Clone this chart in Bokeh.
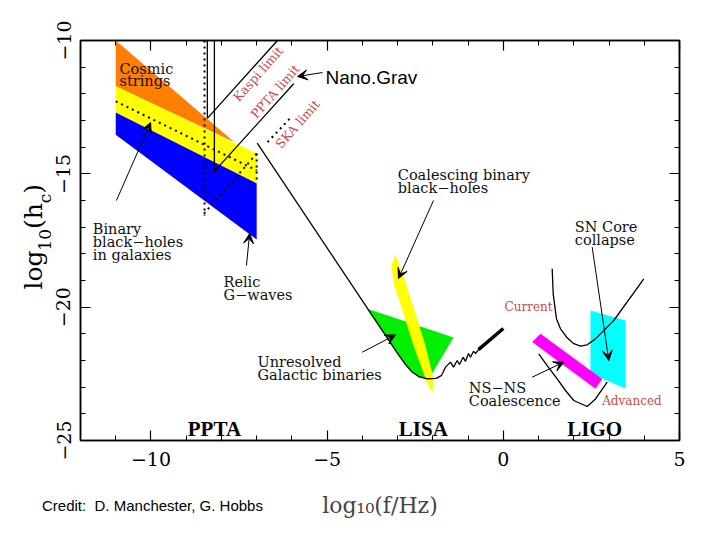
import math
import json
from bokeh.plotting import figure
from bokeh.models import (Range1d, LinearAxis, SingleIntervalTicker, FixedTicker, Label, Arrow,
                          VeeHead, CustomJSTickFormatter)
from bokeh.embed import file_html
from bokeh.resources import INLINE

# ---------------- data (x = log10(f/Hz), y = log10(hc)) ----------------
x_range = (-12, 5)
y_range = (-25, -10)

# PPTA band sources
cosmic_x = [-11.0, -7.63, -11.0]
cosmic_y = [-10.0, -13.82, -11.72]
relic_x = [-11.0, -7.0, -7.0, -11.0]
relic_y = [-11.72, -14.24, -15.36, -12.70]
bbh_gal_x = [-11.0, -7.0, -7.0, -11.0]
bbh_gal_y = [-12.70, -15.36, -17.46, -13.53]

# PPTA limits
dotted_band_x = [-11.0, -7.0]
dotted_band_y = [-12.28, -14.87]
dotted_edge_x = [-7.0, -7.0]
dotted_edge_y = [-14.24, -15.36]
dotted_diag_x = [-7.0, -8.5]
dotted_diag_y = [-14.24, -16.5]
dotted_vert_x = [-8.48, -8.48]
dotted_vert_y = [-10.0, -16.56]
kaspi_x = [-8.40, -8.40, -6.41]
kaspi_y = [-10.0, -12.92, -10.0]
ppta_lim_x = [-8.20, -8.20, -5.95]
ppta_lim_y = [-10.0, -14.91, -11.62]
ska_x = [-6.69, -6.04]
ska_y = [-13.81, -12.90]

# LISA
lisa_x = [-6.985, -3.060, -2.918, -2.776, -2.606, -2.407, -2.152, -1.897, -1.754,
          -1.641, -1.499, -1.414, -1.309, -1.244, -1.139, -1.073, -0.988, -0.932,
          -0.847, -0.790, -0.705]
lisa_y = [-13.85, -21.62, -21.89, -22.15, -22.41, -22.60, -22.69, -22.67, -22.56,
          -22.25, -22.06, -22.25, -22.00, -22.15, -21.88, -22.03, -21.74, -21.88,
          -21.65, -21.74, -21.59]
lisa_tail_x = [-0.705, 0.0]
lisa_tail_y = [-21.59, -20.80]
galactic_x = [-3.883, -1.414, -2.124, -2.407, -2.606, -2.776, -2.918, -3.060]
galactic_y = [-20.05, -21.14, -22.71, -22.60, -22.41, -22.15, -21.89, -21.62]
coal_bbh_x = [-3.060, -2.776, -2.209, -1.982, -2.010, -2.209, -2.549, -3.117, -3.174]
coal_bbh_y = [-18.025, -19.075, -21.44, -22.675, -23.24, -22.675, -21.44, -19.075, -18.44]

# LIGO
sn_x = [2.474, 3.468, 3.468, 2.474]
sn_y = [-20.125, -20.50, -23.05, -22.49]
nsns_x = [0.819, 1.055, 2.806, 2.616]
nsns_y = [-21.31, -21.00, -22.69, -23.06]
ligo_cur_x = [1.387, 1.415, 1.509, 1.623, 1.813, 2.000, 2.190, 2.380, 2.616, 3.135, 3.987]
ligo_cur_y = [-18.56, -19.50, -20.44, -20.81, -21.15, -21.37, -21.46, -21.41, -21.19, -20.50, -18.94]
ligo_adv_x = [1.007, 1.245, 1.529, 1.764, 2.000, 2.380, 2.616, 2.948]
ligo_adv_y = [-21.75, -22.19, -22.69, -23.125, -23.50, -23.725, -23.44, -22.81]

# annotation arrows: (x_start, y_start, x_end, y_end)
arrows = [
    (-10.98, -16.00, -10.01, -13.075),   # binary black holes in galaxies
    (-7.29, -18.44, -7.20, -17.24),      # relic G-waves
    (-1.982, -16.00, -2.975, -18.925),   # coalescing BBH
    (-4.005, -21.69, -3.06, -21.04),     # unresolved galactic binaries
    (2.522, -17.75, 2.994, -22.00),      # SN core collapse
    (0.819, -22.625, 1.717, -22.06),     # NS-NS
    (-5.132, -11.20, -5.842, -11.35),    # NanoGrav
]

# text labels: (text, x, y_baseline)
serif_labels = [
    ("Cosmic", -10.893, -11.05), ("strings", -10.893, -11.50),
    ("Binary", -11.651, -17.05), ("black\u2212holes", -11.651, -17.54), ("in galaxies", -11.651, -18.025),
    ("Relic", -7.942, -19.04), ("G\u2212waves", -7.942, -19.525),
    ("Coalescing binary", -2.995, -15.06), ("black\u2212holes", -2.995, -15.53),
    ("SN Core", 2.029, -17.01), ("collapse", 2.029, -17.48),
    ("Unresolved", -6.977, -22.04), ("Galactic binaries", -6.977, -22.525),
    ("NS\u2212NS", -0.980, -23.03), ("Coalescence", -0.980, -23.525),
]
red_labels = [("Current", 0.034, -20.0), ("Advanced", 2.806, -23.525)]
limit_labels = [("Kaspi limit", -6.962, -11.256), ("PPTA limit", -6.48, -11.91), ("SKA limit", -5.84, -13.13)]
band_labels = [("PPTA", -8.955, -24.56), ("LISA", -2.966, -24.56), ("LIGO", 1.813, -24.56)]
credit_text = "Credit:\u00a0\u00a0D. Manchester, G. Hobbs"
credit_at = [-9.957]
x_title = "log\u2081\u2080(f/Hz)"
# y title pieces, centred at these y values: "log" "(h" ")" large, "10" "c" as subscripts
ytitle_main = ["log", "(h", ")"]
ytitle_main_at = [-18.608, -16.585, -15.561]
ytitle_sub = ["10", "c"]
ytitle_sub_at = [-17.474, -15.923]

SERIF = "DejaVu Serif"
RED = "#cc4a4a"

p = figure(width=712, height=524, x_range=Range1d(*x_range), y_range=Range1d(*y_range),
           output_backend="svg", toolbar_location=None,
           x_axis_location=None, y_axis_location=None,
           min_border_left=80, min_border_right=33, min_border_top=40, min_border_bottom=84,
           background_fill_color="white", border_fill_color="white")
p.grid.visible = False
p.outline_line_color = "black"
p.outline_line_width = 1.5

fmt_code = "return tick < 0 ? '\u2212' + Math.abs(tick) : String(tick);"


def make_axis(show_labels):
    ax = LinearAxis(ticker=SingleIntervalTicker(interval=5, num_minor_ticks=5),
                    formatter=CustomJSTickFormatter(code=fmt_code))
    ax.major_tick_in = 10
    ax.major_tick_out = 0
    ax.minor_tick_in = 5
    ax.minor_tick_out = 0
    ax.axis_line_color = "black"
    ax.axis_line_width = 1.5
    ax.major_tick_line_color = "black"
    ax.major_tick_line_width = 1.2
    ax.minor_tick_line_color = "black"
    ax.minor_tick_line_width = 1
    ax.major_label_text_font = SERIF
    ax.major_label_text_font_size = "19px"
    ax.major_label_text_color = "black"
    if not show_labels:
        ax.major_label_text_font_size = "0px"
        ax.major_label_text_alpha = 0
    return ax


def text_axis(positions, texts, font, size, standoff):
    code = ("const t = %s; const s = %s;"
            "for (let i = 0; i < t.length; i++) { if (Math.abs(tick - t[i]) < 1e-6) return s[i]; }"
            "return '';") % (json.dumps(positions), json.dumps(texts))
    ax = LinearAxis(ticker=FixedTicker(ticks=positions), formatter=CustomJSTickFormatter(code=code))
    ax.axis_line_color = None
    ax.major_tick_line_color = None
    ax.minor_tick_line_color = None
    ax.major_tick_in = 0
    ax.major_tick_out = 0
    ax.minor_tick_in = 0
    ax.minor_tick_out = 0
    ax.major_label_text_font = font
    ax.major_label_text_font_size = size
    ax.major_label_text_color = "black"
    ax.major_label_standoff = standoff
    return ax


xb = make_axis(True)
xb.major_label_standoff = 11
p.add_layout(xb, "below")
# second bottom strip: credit (as a label) + x title
xb2 = text_axis(credit_at, [credit_text], "Liberation Sans", "15px", 28)
xb2.axis_label = x_title
xb2.axis_label_text_font = SERIF
xb2.axis_label_text_font_size = "22px"
xb2.axis_label_text_font_style = "normal"
xb2.axis_label_standoff = -24
p.add_layout(xb2, "below")

p.add_layout(make_axis(False), "above")
yl = make_axis(True)
yl.major_label_orientation = "vertical"
yl.major_label_standoff = 10
p.add_layout(yl, "left")
ysub = text_axis(ytitle_sub_at, ytitle_sub, SERIF, "17px", -2)
ysub.major_label_orientation = "vertical"
p.add_layout(ysub, "left")
ymain = text_axis(ytitle_main_at, ytitle_main, SERIF, "25px", -16)
ymain.major_label_orientation = "vertical"
p.add_layout(ymain, "left")
p.add_layout(make_axis(False), "right")

# ---- filled regions ----
p.patch(cosmic_x, cosmic_y, fill_color="#ff7f00", line_color=None)
p.patch(relic_x, relic_y, fill_color="#ffff00", line_color=None)
p.patch(bbh_gal_x, bbh_gal_y, fill_color="#0000ff", line_color=None)
p.patch(galactic_x, galactic_y, fill_color="#00ee00", line_color=None)
p.patch(coal_bbh_x, coal_bbh_y, fill_color="#ffff00", line_color=None)
p.patch(sn_x, sn_y, fill_color="#00ffff", line_color=None)
p.patch(nsns_x, nsns_y, fill_color="#ff00ff", line_color=None)

# ---- lines ----
for xs, ys in [(dotted_band_x, dotted_band_y), (dotted_edge_x, dotted_edge_y),
               (dotted_diag_x, dotted_diag_y), (dotted_vert_x, dotted_vert_y), (ska_x, ska_y)]:
    p.line(xs, ys, line_color="black", line_width=2, line_dash="2 4")
p.line(kaspi_x, kaspi_y, line_color="black", line_width=1.3)
p.line(ppta_lim_x, ppta_lim_y, line_color="black", line_width=1.3)
p.line(lisa_x, lisa_y, line_color="black", line_width=1.3)
p.line(lisa_tail_x, lisa_tail_y, line_color="black", line_width=3.5)
p.line(ligo_cur_x, ligo_cur_y, line_color="black", line_width=1.3)
p.line(ligo_adv_x, ligo_adv_y, line_color="black", line_width=1.3)

# ---- arrows ----
for xs, ys, xe, ye in arrows:
    p.add_layout(Arrow(end=VeeHead(size=10, fill_color="black", line_color="black", line_width=1),
                       x_start=xs, y_start=ys, x_end=xe, y_end=ye,
                       line_color="black", line_width=1))

# ---- texts ----
for t, x, y in serif_labels:
    p.add_layout(Label(x=x, y=y, text=t, text_font=SERIF, text_font_size="14.5px",
                       text_color="#111111", text_baseline="alphabetic", text_align="left"))
for t, x, y in red_labels:
    p.add_layout(Label(x=x, y=y, text=t, text_font=SERIF, text_font_size="12px",
                       text_color=RED, text_baseline="alphabetic", text_align="left"))
for t, x, y in limit_labels:
    p.add_layout(Label(x=x, y=y, text=t, text_font=SERIF, text_font_size="12.5px",
                       text_color=RED, text_baseline="middle", text_align="center",
                       angle=0.85))
for t, x, y in band_labels:
    p.add_layout(Label(x=x, y=y, text=t, text_font="Liberation Serif", text_font_size="21px",
                       text_font_style="bold", text_color="black",
                       text_baseline="alphabetic", text_align="left"))
p.add_layout(Label(x=-5.047, y=-11.406, text="Nano.Grav", text_font="Liberation Sans",
                   text_font_size="19px", text_color="black", text_baseline="alphabetic"))

open("out.html", "w").write(file_html(p, INLINE))
